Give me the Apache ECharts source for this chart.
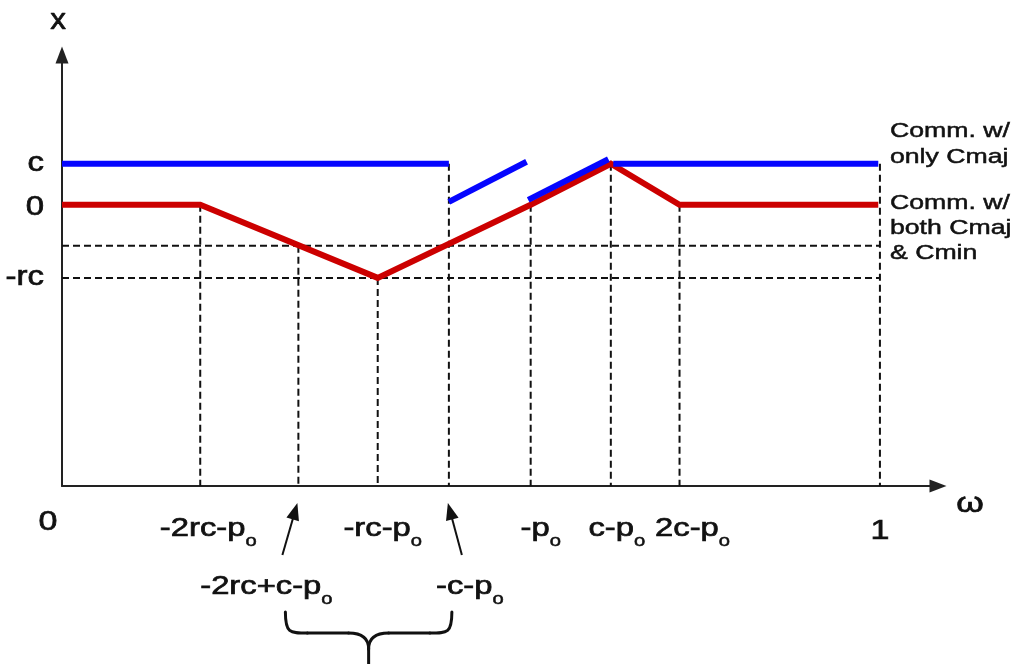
<!DOCTYPE html>
<html>
<head>
<meta charset="utf-8">
<script src="https://cdn.jsdelivr.net/npm/echarts@6/dist/echarts.min.js"></script>
<style>
html,body{margin:0;padding:0;background:#ffffff;}
#c{width:1018px;height:664px;}
</style>
</head>
<body>
<div id="c"></div>
<script>
// ---------------- data ----------------
// omega positions of the marked points (0..1)
const xTicks      = [0.169, 0.289, 0.386, 0.473, 0.573, 0.671, 0.755, 1.0];
const xTickLabels = ['-2rc-p_o', '-2rc+c-p_o', '-rc-p_o', '-c-p_o', '-p_o', 'c-p_o', '2c-p_o', '1'];
const secondRowLabels = ['-2rc+c-p_o', '-c-p_o'];
// top of each vertical dashed guide (y value)
const vDashTops   = [0, -1, -1.78, 1, 0, 1, 0, 1];
// horizontal dashed guides (y values: -c and -rc)
const hDashLevels = [-1, -1.78];
// y tick labels
const yTickLabels = ['c', '0', '-rc'];
const yTickValues = [1, 0, -1.78];
// red curve: communication with both Cmaj & Cmin
const redLine  = [[0, 0], [0.169, 0], [0.386, -1.78], [0.573, 0], [0.671, 1], [0.755, 0], [0.998, 0]];
// blue curve: communication with only Cmaj (four pieces)
const blueSeg1 = [[0, 1], [0.473, 1]];
const blueSeg2 = [[0.473, 0.07], [0.568, 1.05]];
const blueSeg3 = [[0.570, 0.12], [0.668, 1.11]];
const blueSeg4 = [[0.674, 1], [0.998, 1]];
const curveLabels = ['Comm. w/\nonly Cmaj', 'Comm. w/\nboth Cmaj\n& Cmin'];
const axisNames = ['\u03c9', 'x'];
const originLabel = '0';

// ---------------- chart ----------------
const X_MAX = 1.071, Y_MIN = -6.85, Y_MAX = 3.65;
const FONT = '"Liberation Sans", Arial, Helvetica, sans-serif';
const INK = '#111111';
const SX = 1.26; // horizontal stretch of the reference lettering
const TS = {stroke: INK, lineWidth: 0.7}; // slight emboldening of the lettering

const chart = echarts.init(document.getElementById('c'), null, {renderer: 'canvas'});

const dashStyle = {color: INK, width: 2, type: [7, 4]};
const series = [];
xTicks.forEach((x, i) => {
  series.push({type: 'line', data: [[x, vDashTops[i]], [x, Y_MIN]], symbol: 'none',
    lineStyle: dashStyle, silent: true, z: 1});
});
hDashLevels.forEach(y => {
  series.push({type: 'line', data: [[0, y], [1, y]], symbol: 'none',
    lineStyle: dashStyle, silent: true, z: 1});
});
series.push({type: 'line', data: redLine, symbol: 'none', silent: true, z: 3,
  lineStyle: {color: '#cc0000', width: 6, join: 'miter'}});
[blueSeg1, blueSeg2, blueSeg3, blueSeg4].forEach(seg => {
  series.push({type: 'line', data: seg, symbol: 'none', silent: true, z: 4,
    lineStyle: {color: '#0505ff', width: 6, cap: 'butt'}});
});

chart.setOption({
  animation: false,
  backgroundColor: '#ffffff',
  grid: {left: 62, top: 55, right: 80, bottom: 178, containLabel: false},
  xAxis: {
    type: 'value', min: 0, max: X_MAX,
    axisLine: {show: true, onZero: false, symbol: ['none', 'triangle'], symbolSize: [13, 17],
      lineStyle: {color: '#222', width: 2}},
    axisTick: {show: false}, axisLabel: {show: false}, splitLine: {show: false}
  },
  yAxis: {
    type: 'value', min: Y_MIN, max: Y_MAX,
    axisLine: {show: true, onZero: false, symbol: ['none', 'triangle'], symbolSize: [13, 17],
      lineStyle: {color: '#222', width: 2}},
    axisTick: {show: false}, axisLabel: {show: false}, splitLine: {show: false}
  },
  series: series
});

// ---------------- annotations placed through the axes ----------------
const P = (x, y) => chart.convertToPixel({gridIndex: 0}, [x, y]);
const axisY = P(0, Y_MIN)[1];
const axisX0 = P(0, 0)[0];

function richText(label) {
  if (label.endsWith('_o')) return '{m|' + label.slice(0, -2) + '}{s|o}';
  return '{m|' + label + '}';
}
const rich = {
  m: Object.assign({fontSize: 26, lineHeight: 30, fontFamily: FONT, fill: INK, verticalAlign: 'top'}, TS),
  s: Object.assign({fontSize: 16, lineHeight: 16, fontFamily: FONT, fill: INK, verticalAlign: 'top', padding: [18, 0, 0, 0]}, TS, {lineWidth: 0.5})
};
function plain(text, size, extra) {
  return Object.assign({text: text, fontSize: size, fontFamily: FONT, fill: INK,
    align: 'center', verticalAlign: 'middle'}, TS, extra || {});
}

const g = [];
// tick labels on the omega axis
const rowOffsets = {'-2rc-p_o': 8, '-rc-p_o': 5, '-p_o': 10, 'c-p_o': 6, '2c-p_o': 13,
                    '-2rc+c-p_o': -32, '-c-p_o': 21};
xTicks.forEach((x, i) => {
  const lab = xTickLabels[i];
  const px = P(x, 0)[0];
  if (lab === '1') {
    g.push({type: 'text', x: px, y: axisY + 46, scaleX: SX, style: plain(lab, 27)});
    return;
  }
  const second = secondRowLabels.indexOf(lab) >= 0;
  const dx = rowOffsets[lab];
  const top = second ? axisY + 88 : axisY + 30;
  g.push({type: 'text', x: px + dx, y: top, scaleX: SX,
    style: {text: richText(lab), rich: rich, align: 'center', verticalAlign: 'top'}});
  if (second) {
    // pointer arrow from the label up to the tick
    const tx = px - 1, ty = axisY + 17;
    const bx = px + (dx < 0 ? -16 : 13), by = axisY + 69;
    const ddx = tx - bx, ddy = ty - by, L = Math.hypot(ddx, ddy);
    const ux = ddx / L, uy = ddy / L, hl = 17, hw = 6.5;
    const hx = tx - ux * hl, hy = ty - uy * hl;
    g.push({type: 'line', shape: {x1: bx, y1: by, x2: hx + ux * 2, y2: hy + uy * 2},
      style: {stroke: INK, lineWidth: 2}});
    g.push({type: 'polygon', shape: {points: [[tx, ty], [hx - uy * hw, hy + ux * hw], [hx + uy * hw, hy - ux * hw]]},
      style: {fill: INK}});
  }
});
// origin label
g.push({type: 'text', x: axisX0 - 14, y: axisY + 37, scaleX: SX, style: plain(originLabel, 27)});
// axis names
g.push({type: 'text', x: P(X_MAX, 0)[0] + 32, y: axisY + 18, scaleX: SX, style: plain(axisNames[0], 28)});
g.push({type: 'text', x: axisX0 - 4, y: P(0, Y_MAX)[1] - 34, scaleX: 1.05, style: plain(axisNames[1], 30)});
// y tick labels
yTickLabels.forEach((lab, i) => {
  const py = P(0, yTickValues[i])[1];
  g.push({type: 'text', x: axisX0 - 18, y: py + (lab === '0' ? 3 : 0), scaleX: 1.22,
    style: plain(lab, 27, {align: 'right'})});
});
// curve labels at right
const xr = P(1, 0)[0] + 10;
g.push({type: 'text', x: xr, y: P(1, 1)[1] - 46, scaleX: 1.27,
  style: plain(curveLabels[0], 21, {lineHeight: 26, align: 'left', verticalAlign: 'top', lineWidth: 0.5})});
g.push({type: 'text', x: xr, y: P(1, 0)[1] - 14, scaleX: 1.27,
  style: plain(curveLabels[1], 21, {lineHeight: 25, align: 'left', verticalAlign: 'top', lineWidth: 0.5})});
// curly brace under the two arrowed points
const bl = P(xTicks[1], 0)[0] - 13, br = P(xTicks[3], 0)[0] + 3, bc = (bl + br) / 2;
const bt = axisY + 126, bh = axisY + 147, bs = axisY + 163;
const braceStyle = {stroke: INK, lineWidth: 3, fill: 'none', lineCap: 'round'};
g.push({type: 'bezierCurve', shape: {x1: bl, y1: bt, cpx1: bl, cpy1: bh, cpx2: bl + 4, cpy2: bh, x2: bl + 22, y2: bh}, style: braceStyle});
g.push({type: 'line', shape: {x1: bl + 22, y1: bh, x2: bc - 20, y2: bh}, style: braceStyle});
g.push({type: 'bezierCurve', shape: {x1: bc - 20, y1: bh, cpx1: bc - 6, cpy1: bh, cpx2: bc, cpy2: bh + 6, x2: bc, y2: bs}, style: braceStyle});
g.push({type: 'bezierCurve', shape: {x1: br, y1: bt, cpx1: br, cpy1: bh, cpx2: br - 4, cpy2: bh, x2: br - 22, y2: bh}, style: braceStyle});
g.push({type: 'line', shape: {x1: br - 22, y1: bh, x2: bc + 20, y2: bh}, style: braceStyle});
g.push({type: 'bezierCurve', shape: {x1: bc + 20, y1: bh, cpx1: bc + 6, cpy1: bh, cpx2: bc, cpy2: bh + 6, x2: bc, y2: bs}, style: braceStyle});
g.push({type: 'line', shape: {x1: bc, y1: bs, x2: bc, y2: axisY + 185}, style: braceStyle});

chart.setOption({graphic: g});
</script>
</body>
</html>
